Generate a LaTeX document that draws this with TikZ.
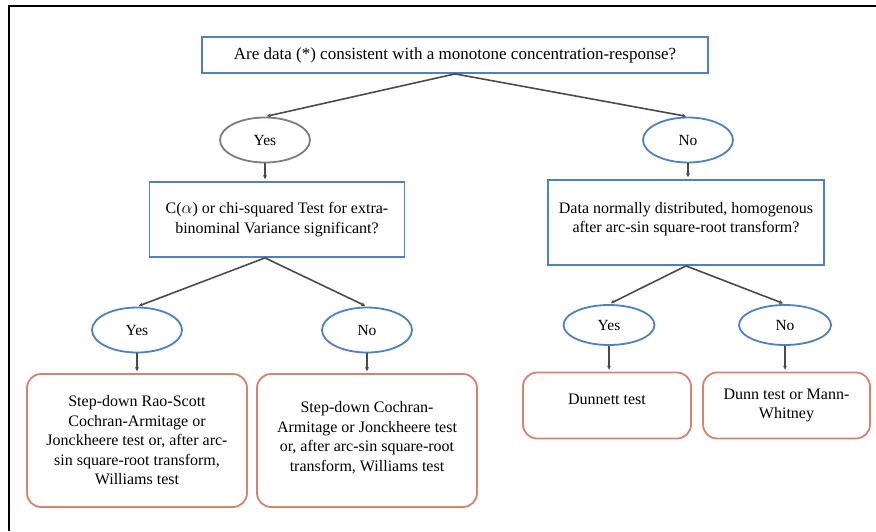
\documentclass[tikz,border=0pt]{standalone}
\usepackage{fontspec}
\setmainfont{Liberation Serif}
\usetikzlibrary{shapes.geometric,arrows.meta}
\definecolor{bblue}{RGB}{79,129,189}
\definecolor{rred}{RGB}{214,130,110}
\definecolor{lgray}{RGB}{130,120,140}
\definecolor{lineg}{RGB}{75,75,75}
\tikzset{
  qbox/.style={draw=bblue,line width=1.8pt,rectangle,align=center,inner sep=2pt,font=\fontsize{16}{19.5}\selectfont},
  oval/.style={draw=bblue,line width=1.8pt,ellipse,inner sep=0pt,font=\fontsize{15.5}{18}\selectfont},
  abox/.style={draw=rred,line width=1.8pt,rectangle,rounded corners=14pt,align=center,inner sep=2pt,font=\fontsize{16}{19.5}\selectfont},
  conn/.style={draw=lineg,line width=1.6pt,-{Stealth[length=4pt,width=4pt]},shorten >=2pt},
}
\begin{document}
\begin{tikzpicture}[x=1pt,y=-1pt]
\useasboundingbox (0,0) rectangle (876,531);
\draw[black,line width=1.5pt] (9,531) -- (9,6) -- (876,6);
\node[qbox,font=\fontsize{17}{20}\selectfont,minimum width=506,minimum height=36] (top) at (455,55) {Are data (*) consistent with a monotone concentration-response?};
\node[oval,draw=lgray,minimum width=90,minimum height=45] (yes1) at (265,140) {Yes};
\node[oval,minimum width=90,minimum height=45] (no1) at (688,140) {No};
\node[qbox,minimum width=255,minimum height=75] (q2) at (277,219.5) {C($\alpha$) or chi-squared Test for extra-\\binominal Variance significant?};
\node[qbox,minimum width=276,minimum height=85] (q3) at (686,222.5) {Data normally distributed, homogenous\\after arc-sin square-root transform?\\[-9.5pt]};
\node[oval,minimum width=90,minimum height=45] (yes2) at (137,330) {Yes};
\node[oval,minimum width=90,minimum height=45] (no2) at (367,330) {No};
\node[oval,minimum width=91,minimum height=40] (yes3) at (609,325) {Yes};
\node[oval,minimum width=92,minimum height=40] (no3) at (785,325) {No};
\node[abox,minimum width=220,minimum height=133] (b1) at (137,440.5) {Step-down Rao-Scott\\Cochran-Armitage or\\Jonckheere test or, after arc-\\sin square-root transform,\\Williams test};
\node[abox,minimum width=220,minimum height=133] (b2) at (367,440.5) {Step-down Cochran-\\Armitage or Jonckheere test\\or, after arc-sin square-root\\transform, Williams test\\[-11.5pt]};
\node[abox,minimum width=168,minimum height=66] (b3) at (607,405.5) {Dunnett test\\[-6.5pt]};
\node[abox,minimum width=167,minimum height=66] (b4) at (786.5,405.5) {Dunn test or Mann-\\Whitney};
\draw[conn] (top.south) -- (yes1.north);
\draw[conn] (top.south) -- (no1.north);
\draw[conn] (yes1.south) -- (yes1.south |- q2.north);
\draw[conn] (no1.south) -- (no1.south |- q3.north);
\coordinate (q2s) at (yes1.south |- q2.south);
\draw[conn] (q2s) -- (yes2.north);
\draw[conn] (q2s) -- (no2.north);
\draw[conn] (q3.south) -- (yes3.north);
\draw[conn] (q3.south) -- (no3.north);
\draw[conn] (yes2.south) -- (yes2.south |- b1.north);
\draw[conn] (no2.south) -- (no2.south |- b2.north);
\draw[conn] (yes3.south) -- (yes3.south |- b3.north);
\draw[conn] (no3.south) -- (no3.south |- b4.north);
\end{tikzpicture}
\end{document}
